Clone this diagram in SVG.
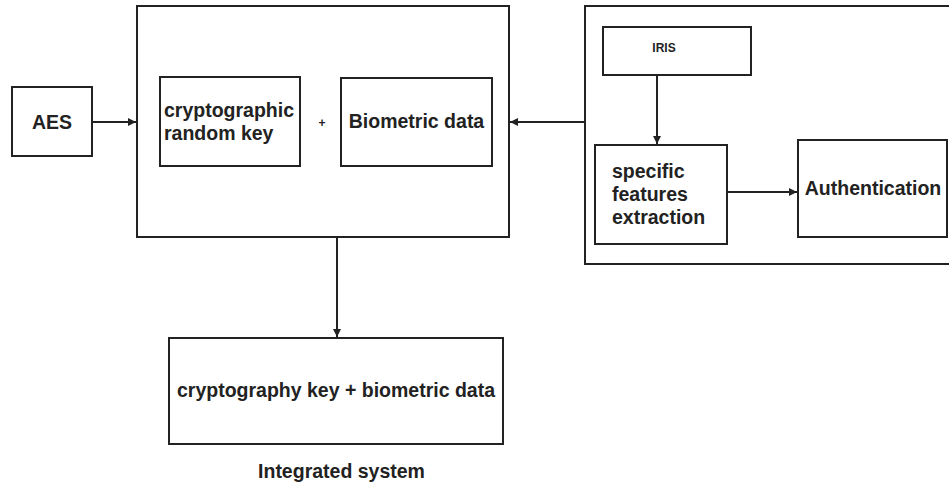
<svg xmlns="http://www.w3.org/2000/svg" width="949" height="484" viewBox="0 0 949 484">
<style>
.box{fill:#fff;stroke:#222;stroke-width:2}
.t{font-family:"Liberation Sans",Arial,sans-serif;font-weight:bold;font-size:19.5px;fill:#222}
.s{font-family:"Liberation Sans",Arial,sans-serif;font-weight:bold;font-size:12px;fill:#222}
.c{fill:none;stroke:#222;stroke-width:2}
</style>
<defs>
<marker id="ah" viewBox="0 0 10 10" refX="10" refY="5" markerWidth="4" markerHeight="4" orient="auto" markerUnits="strokeWidth">
<path d="M0,0 L10,5 L0,10 z" fill="#222"/>
</marker>
</defs>
<rect width="949" height="484" fill="#fff"/>
<g id="main-container"><rect class="box" x="137" y="6" width="372" height="231"/></g>
<g id="right-container"><rect class="box" x="585" y="6" width="380" height="258"/></g>
<g id="aes"><rect class="box" x="12" y="87" width="80" height="69"/><text class="t" x="52" y="129" text-anchor="middle">AES</text></g>
<g id="crypto-key"><rect class="box" x="160" y="77" width="140" height="89"/><text class="t" x="164" y="117">cryptographic</text><text class="t" x="164" y="140">random key</text></g>
<g id="plus"><text class="t" x="322" y="127" text-anchor="middle" style="font-size:12px">+</text></g>
<g id="biometric"><rect class="box" x="341" y="78" width="151" height="88"/><text class="t" x="416.5" y="128" text-anchor="middle">Biometric data</text></g>
<g id="iris"><rect class="box" x="603" y="27" width="148" height="48"/><text class="s" x="664" y="52" text-anchor="middle">IRIS</text></g>
<g id="features"><rect class="box" x="595" y="145" width="132" height="99"/><text class="t" x="612" y="178">specific</text><text class="t" x="612" y="201">features</text><text class="t" x="612" y="224">extraction</text></g>
<g id="authentication"><rect class="box" x="798" y="140" width="149" height="97"/><text class="t" x="873" y="195" text-anchor="middle">Authentication</text></g>
<g id="combined"><rect class="box" x="169" y="338" width="334" height="106"/><text class="t" x="336" y="397" text-anchor="middle">cryptography key + biometric data</text></g>
<g id="label"><text class="t" x="341.5" y="478" text-anchor="middle">Integrated system</text></g>
<g id="connectors">
<line class="c" x1="92" y1="122" x2="136" y2="122" marker-end="url(#ah)"/>
<line class="c" x1="585" y1="122" x2="510" y2="122" marker-end="url(#ah)"/>
<line class="c" x1="657" y1="75" x2="657" y2="144" marker-end="url(#ah)"/>
<line class="c" x1="727" y1="192" x2="797" y2="192" marker-end="url(#ah)"/>
<line class="c" x1="337" y1="237" x2="337" y2="337" marker-end="url(#ah)"/>
</g>
</svg>
